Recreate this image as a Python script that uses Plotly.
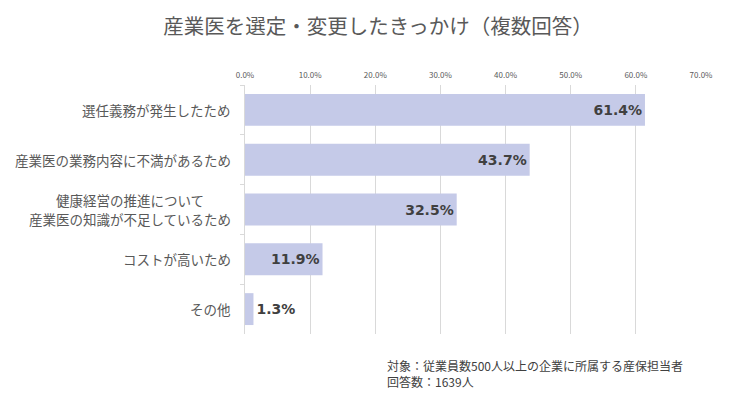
import plotly.graph_objects as go

categories = [
    "選任義務が発生したため",
    "産業医の業務内容に不満があるため",
    "健康経営の推進について<br>産業医の知識が不足しているため",
    "コストが高いため",
    "その他",
]
values = [61.4, 43.7, 32.5, 11.9, 1.3]
label_positions = ["inside", "inside", "inside", "inside", "outside"]
x_ticks = [0, 10, 20, 30, 40, 50, 60, 70]
x_tick_labels = ["0.0%", "10.0%", "20.0%", "30.0%", "40.0%", "50.0%", "60.0%", "70.0%"]
title_text = "産業医を選定・変更したきっかけ（複数回答）"
note_text = "対象：従業員数500人以上の企業に所属する産保担当者<br>回答数：1639人"

JP = "Noto Sans CJK JP"
GRID = "#D9D9D9"
LABEL_SIZE = 13.5
LINE_GAP = 19

# page body has an 8px margin; compensate so the figure sits as in the reference
OFF = 8
W, H = 737 - 2 * OFF, 399 - 2 * OFF
L = 244.5 - OFF
T = 85 - OFF
R = W - (701.5 - OFF)
B = H - (334 - OFF)
PW, PH = W - L - R, H - T - B

fig = go.Figure()
fig.add_trace(go.Bar(
    x=values,
    y=categories,
    orientation="h",
    marker=dict(color="#C5CAE8", line=dict(width=0)),
    text=[f"{v:.1f}%" for v in values],
    textposition=label_positions,
    insidetextanchor="end",
    textfont=dict(family="DejaVu Sans", size=14, color="#404040", weight="bold"),
    cliponaxis=False,
    hoverinfo="skip",
))

# category labels: multi-line labels are centred line by line, as in the reference
for c in categories:
    lines = c.split("<br>")
    n = len(lines)
    longest = max(len(s) for s in lines)
    for i, s in enumerate(lines):
        fig.add_annotation(
            x=0, y=c, xref="x", yref="y",
            text=s, showarrow=False,
            xanchor="right", yanchor="middle",
            xshift=-12 - (longest - len(s)) * LABEL_SIZE / 2,
            yshift=((n - 1) / 2 - i) * LINE_GAP,
            font=dict(family=JP, size=LABEL_SIZE, color="#595959"),
        )

fig.add_annotation(
    x=(385 - OFF - L) / PW, y=(H - B - (355 - OFF)) / PH, xref="paper", yref="paper",
    text=note_text, showarrow=False, xanchor="left", yanchor="top", align="left",
    font=dict(family=JP, size=12, color="#404040"),
)

fig.update_layout(
    width=W, height=H,
    paper_bgcolor="white", plot_bgcolor="white",
    margin=dict(l=L, r=R, t=T, b=B, autoexpand=False),
    title=dict(text=title_text, x=(378 - OFF) / W, xanchor="center", y=1 - (27 - OFF) / H, yanchor="middle",
               font=dict(family=JP, size=20.5, color="#595959")),
    bargap=0.36,
    showlegend=False,
    xaxis=dict(
        side="top", range=[0, 70], tickvals=x_ticks, ticktext=x_tick_labels,
        showgrid=True, gridcolor=GRID, gridwidth=1, zeroline=False,
        showline=False, ticks="", ticklabelstandoff=4, automargin=False,
        tickfont=dict(family=JP, size=8, color="#595959"),
        fixedrange=True,
    ),
    yaxis=dict(
        autorange="reversed", showticklabels=False, automargin=False,
        tickson="boundaries", ticks="outside", ticklen=4, tickcolor=GRID,
        showline=True, linecolor=GRID, linewidth=1,
        showgrid=False, fixedrange=True,
    ),
)

fig.write_html("out.html")
